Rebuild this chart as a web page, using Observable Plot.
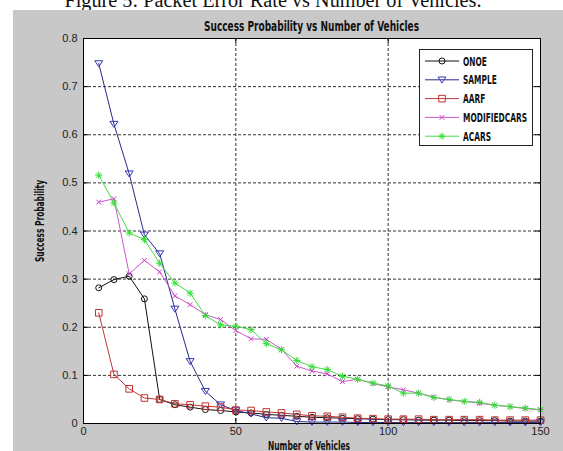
<!DOCTYPE html>
<html><head><meta charset="utf-8">
<script src="https://cdn.jsdelivr.net/npm/d3@7"></script>
<script src="https://cdn.jsdelivr.net/npm/@observablehq/plot@0.6"></script>
<style>
body{margin:0;background:#fff;}
#chart{position:relative;width:563px;height:451px;overflow:hidden;}
</style>
</head><body><div id="chart"></div>
<script>
// ---- data ----
const caption = "Figure 5: Packet Error Rate vs Number of Vehicles.";
const chartTitle = "Success Probability vs Number of Vehicles";
const xLabel = "Number of Vehicles";
const yLabel = "Success Probability";
const vehicles = [5,10,15,20,25,30,35,40,45,50,55,60,65,70,75,80,85,90,95,100,105,110,115,120,125,130,135,140,145,150];
const seriesNames = ["ONOE","SAMPLE","AARF","MODIFIEDCARS","ACARS"];
const onoe = [0.282,0.299,0.306,0.259,0.050,0.039,0.034,0.029,0.027,0.024,0.022,0.019,0.017,0.015,0.013,0.012,0.011,0.010,0.009,0.008,0.008,0.007,0.007,0.007,0.006,0.006,0.006,0.005,0.005,0.005];
const sample = [0.748,0.622,0.519,0.392,0.353,0.238,0.129,0.067,0.039,0.027,0.020,0.012,0.011,0.004,0.003,0.003,0.003,0.002,0.002,0.002,0.002,0.002,0.002,0.002,0.002,0.002,0.002,0.002,0.002,0.002];
const aarf = [0.230,0.102,0.072,0.053,0.050,0.041,0.039,0.036,0.034,0.028,0.027,0.024,0.022,0.019,0.016,0.015,0.013,0.011,0.010,0.009,0.009,0.009,0.008,0.008,0.008,0.008,0.007,0.007,0.007,0.007];
const modifiedcars = [0.460,0.467,0.311,0.339,0.315,0.265,0.247,0.226,0.216,0.193,0.176,0.175,0.154,0.119,0.109,0.103,0.087,0.092,0.083,0.076,0.070,0.063,0.055,0.049,0.046,0.042,0.038,0.035,0.031,0.028];
const acars = [0.516,0.458,0.396,0.382,0.333,0.292,0.271,0.224,0.205,0.202,0.195,0.166,0.153,0.131,0.118,0.112,0.098,0.092,0.084,0.078,0.063,0.063,0.054,0.050,0.046,0.044,0.038,0.035,0.032,0.029];
const seriesValues = [onoe, sample, aarf, modifiedcars, acars];
const xTicks = [0,50,100,150];
const xTickLabels = ["0","50","100","150"];
const yTicks = [0,0.1,0.2,0.3,0.4,0.5,0.6,0.7,0.8];
const yTickLabels = ["0","0.1","0.2","0.3","0.4","0.5","0.6","0.7","0.8"];

// ---- styles ----
const lineColors = ["#111111","#2a2a8a","#b83a3a","#cc55cc","#44dd44"];
const markerColors = ["#111111","#3535b8","#c03030","#cc44cc","#33dd33"];
const markerR = [3, 4, 3.3, 3, 3.6];

const symTriDown = {draw(ctx, size){ const r = Math.sqrt(size/Math.PI);
  ctx.moveTo(-r, -r*0.7); ctx.lineTo(r, -r*0.7); ctx.lineTo(0, r*0.8); ctx.closePath(); }};
const symCircle = {draw(ctx, size){ const r = Math.sqrt(size/Math.PI);
  ctx.moveTo(r,0); ctx.arc(0,0,r,0,2*Math.PI); ctx.closePath(); }};
const symSquare = {draw(ctx, size){ const r = Math.sqrt(size/Math.PI);
  ctx.rect(-r,-r,2*r,2*r); }};
const symTimes = {draw(ctx, size){ const r = Math.sqrt(size/Math.PI)*0.8;
  ctx.moveTo(-r,-r); ctx.lineTo(r,r); ctx.moveTo(-r,r); ctx.lineTo(r,-r); }};
const symStar = {draw(ctx, size){ const r = Math.sqrt(size/Math.PI); const d = r*0.7071;
  ctx.moveTo(-r,0); ctx.lineTo(r,0); ctx.moveTo(0,-r); ctx.lineTo(0,r);
  ctx.moveTo(-d,-d); ctx.lineTo(d,d); ctx.moveTo(-d,d); ctx.lineTo(d,-d); }};
const symbols = [symCircle, symTriDown, symSquare, symTimes, symStar];

const table = [];
seriesValues.forEach((vals, i) => vals.forEach((v, j) => table.push({series: seriesNames[i], x: vehicles[j], y: v})));

const W = 563, H = 451, mL = 83, mR = 23, mT = 38, mB = 28;
const fw = W - mL - mR, fh = H - mT - mB;

const dataMarks = [];
seriesNames.forEach((name, i) => {
  const rows = table.filter(d => d.series === name);
  dataMarks.push(Plot.line(rows, {x: "x", y: "y", stroke: lineColors[i], strokeWidth: 1}));
  dataMarks.push(Plot.dot(rows, {x: "x", y: "y", symbol: symbols[i], r: markerR[i], stroke: markerColors[i], fill: "none", strokeWidth: 1}));
});

const gridStyle = {stroke: "#333", strokeOpacity: 1, strokeWidth: 1, strokeDasharray: "3,2"};
const tickStyle = {stroke: "#000", strokeWidth: 1};

const chart = Plot.plot({
  width: W, height: H,
  marginLeft: mL, marginRight: mR, marginTop: mT, marginBottom: mB,
  x: {domain: [0, 150]},
  y: {domain: [0, 0.8]},
  style: {fontFamily: "'Liberation Sans', Arial, sans-serif", fontSize: "11px", background: "transparent", color: "#222"},
  marks: [
    Plot.frame({fill: "white", stroke: "none"}),
    Plot.gridX(xTicks.slice(1, -1), gridStyle),
    Plot.gridY(yTicks.slice(1, -1), gridStyle),
    Plot.tickX(xTicks.slice(1, -1), {x: d => d, insetTop: fh - 5, ...tickStyle}),
    Plot.tickX(xTicks.slice(1, -1), {x: d => d, insetBottom: fh - 5, ...tickStyle}),
    Plot.tickY(yTicks.slice(1, -1), {y: d => d, insetRight: fw - 5, ...tickStyle}),
    Plot.tickY(yTicks.slice(1, -1), {y: d => d, insetLeft: fw - 5, ...tickStyle}),
    ...dataMarks,
    Plot.frame({stroke: "#000", strokeWidth: 1}),
    Plot.axisX(xTicks, {tickSize: 0, tickPadding: 4, fontSize: 11, tickFormat: d => xTickLabels[xTicks.indexOf(d)], label: null}),
    Plot.axisY(yTicks, {tickSize: 0, tickPadding: 6, fontSize: 11, tickFormat: d => yTickLabels[yTicks.indexOf(d)], label: null})
  ]
});

document.getElementById("chart").appendChild(chart);
const svg = d3.select(chart);

// caption (cut off at top, as in the source), then the gray figure background
const cap = svg.insert("text", ":first-child")
  .attr("x", 273).attr("y", 7).attr("text-anchor", "middle")
  .attr("font-family", "'Liberation Serif', 'Times New Roman', serif").attr("font-size", 20).attr("fill", "#111")
  .text(caption);
svg.insert("rect", ":nth-child(2)")
  .attr("x", 13).attr("y", 10).attr("width", W - 13).attr("height", H - 10).attr("fill", "#c8c8c8");

const condensed = "'DejaVu Sans Condensed', 'DejaVu Sans', sans-serif";
function fitText(sel, width){
  const len = sel.node().getComputedTextLength();
  if (len > 0) sel.attr("textLength", width).attr("lengthAdjust", "spacingAndGlyphs");
  return len;
}
fitText(cap, 417);

const title = svg.append("text").attr("x", (mL + W - mR) / 2).attr("y", 30.5).attr("text-anchor", "middle")
  .attr("font-family", condensed).attr("font-weight", "bold").attr("font-size", 13.5).attr("fill", "#111")
  .text(chartTitle);
fitText(title, 215);

const xl = svg.append("text").attr("x", 309).attr("y", 450).attr("text-anchor", "middle")
  .attr("font-family", condensed).attr("font-weight", "bold").attr("font-size", 13).attr("fill", "#111")
  .text(xLabel);
fitText(xl, 82);

const yl = svg.append("text").attr("transform", "translate(43.5,221) rotate(-90)").attr("text-anchor", "middle")
  .attr("font-family", condensed).attr("font-weight", "bold").attr("font-size", 13).attr("fill", "#111")
  .text(yLabel);
fitText(yl, 82);

// legend
const lg = svg.append("g");
lg.append("rect").attr("x", 419.5).attr("y", 49.5).attr("width", 113).attr("height", 96)
  .attr("fill", "white").attr("stroke", "#222").attr("stroke-width", 1);
const texts = [];
seriesNames.forEach((name, i) => {
  const cy = 61 + i * 18.8;
  lg.append("line").attr("x1", 425).attr("x2", 459).attr("y1", cy).attr("y2", cy)
    .attr("stroke", lineColors[i]).attr("stroke-width", 1);
  lg.append("path").attr("transform", `translate(442,${cy})`)
    .attr("d", d3.symbol(symbols[i], Math.PI * markerR[i] * markerR[i])())
    .attr("fill", "none").attr("stroke", markerColors[i]).attr("stroke-width", 1);
  texts.push(lg.append("text").attr("x", 463).attr("y", cy + 4.5).attr("text-anchor", "start")
    .attr("font-family", condensed).attr("font-weight", "bold").attr("font-size", 11.5).attr("fill", "#111")
    .text(name));
});
const lens = texts.map(t => t.node().getComputedTextLength());
const k = lens[3] > 0 ? 64 / lens[3] : 1;
texts.forEach((t, i) => { if (lens[i] > 0) t.attr("textLength", lens[i] * k).attr("lengthAdjust", "spacingAndGlyphs"); });
</script>
</body></html>
